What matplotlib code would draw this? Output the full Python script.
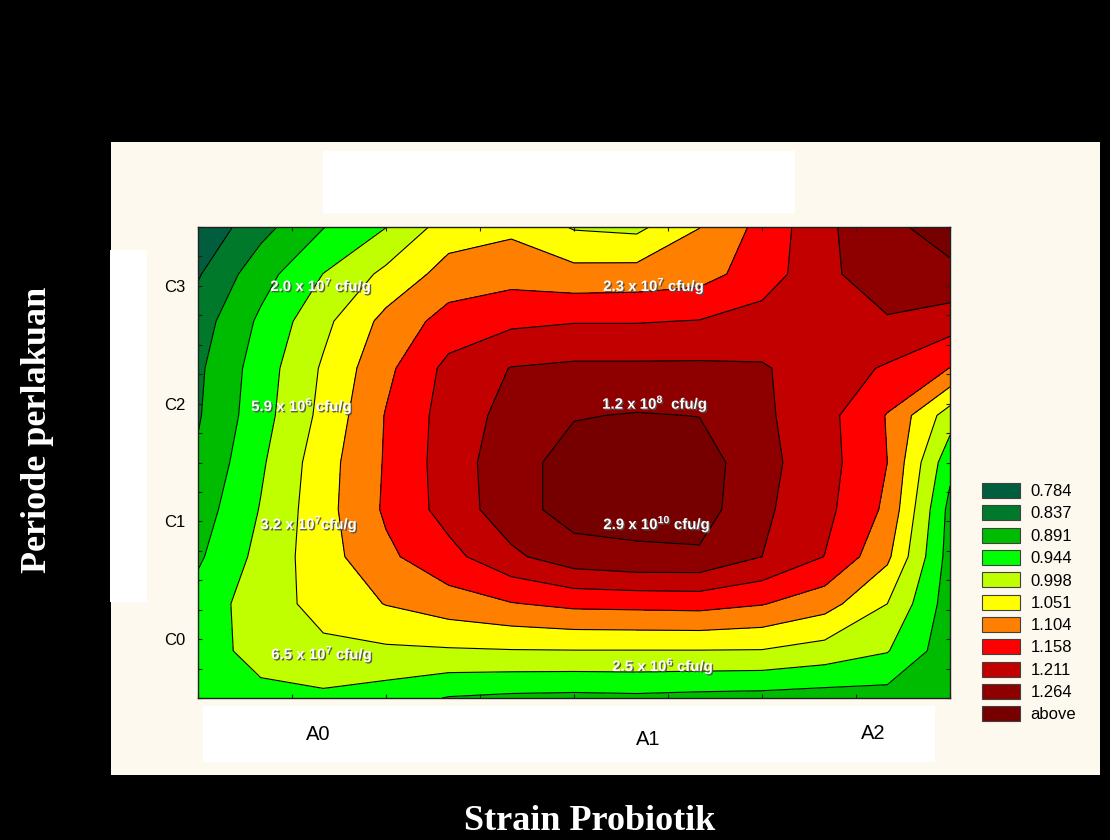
import numpy as np
import matplotlib.pyplot as plt
import matplotlib.patheffects as pe
from matplotlib.patches import Rectangle, Patch

plt.rcParams['font.family'] = ['Liberation Sans', 'DejaVu Sans']
plt.rcParams['mathtext.fontset'] = 'custom'
plt.rcParams['mathtext.rm'] = 'Liberation Sans:bold'
plt.rcParams['mathtext.bf'] = 'Liberation Sans:bold'

# kontur-nivåer og farger (fra forklaringen)
levels = [0.784, 0.837, 0.891, 0.944, 0.998, 1.051, 1.104, 1.158, 1.211, 1.264]
legend_labels = ['0.784', '0.837', '0.891', '0.944', '0.998', '1.051',
                 '1.104', '1.158', '1.211', '1.264', 'above']
colors = ['#005e3e', '#007a2a', '#00bc00', '#00ff00', '#bfff00', '#ffff00',
          '#ff8000', '#ff0000', '#c20000', '#8e0000', '#760000']

# akser: strain (x) og periode (y)
x_vals = np.linspace(0, 8, 13)
y_vals = np.linspace(3.5, -0.5, 11)
y_ticks = [0, 1, 2, 3]
y_labels = ['C0', 'C1', 'C2', 'C3']
x_names = ['A0', 'A1', 'A2']
x_name_x = [1.277, 4.787, 7.18]
x_name_y = [-0.81, -0.855, -0.80]

# målte verdier, rad for rad ovenfra og ned
z = [
    [0.741, 0.819, 0.889, 0.943, 1.024, 1.040, 0.993, 0.985, 1.050, 1.120, 1.200, 1.253, 1.285],
    [0.779, 0.869, 0.945, 1.011, 1.072, 1.083, 1.069, 1.072, 1.083, 1.131, 1.197, 1.248, 1.253],
    [0.811, 0.901, 0.984, 1.067, 1.125, 1.147, 1.155, 1.155, 1.160, 1.179, 1.189, 1.205, 1.184],
    [0.827, 0.917, 1.005, 1.091, 1.173, 1.213, 1.221, 1.221, 1.221, 1.216, 1.184, 1.152, 1.103],
    [0.832, 0.923, 1.013, 1.107, 1.181, 1.229, 1.261, 1.267, 1.263, 1.221, 1.176, 1.101, 0.971],
    [0.845, 0.936, 1.029, 1.109, 1.184, 1.243, 1.285, 1.283, 1.291, 1.227, 1.179, 1.104, 0.907],
    [0.864, 0.947, 1.032, 1.112, 1.179, 1.243, 1.285, 1.280, 1.288, 1.221, 1.173, 1.093, 0.875],
    [0.883, 0.960, 1.029, 1.093, 1.141, 1.200, 1.243, 1.256, 1.256, 1.211, 1.157, 1.062, 0.869],
    [0.912, 0.973, 1.016, 1.053, 1.080, 1.101, 1.117, 1.120, 1.123, 1.107, 1.072, 0.998, 0.864],
    [0.917, 0.965, 0.987, 0.989, 0.992, 0.995, 0.996, 0.996, 0.996, 0.995, 0.976, 0.947, 0.859],
    [0.907, 0.928, 0.933, 0.917, 0.888, 0.880, 0.877, 0.880, 0.875, 0.872, 0.867, 0.869, 0.853],
]

# teksten med kimtall i plottet
counts = ['2.0 x 10$^{7}$ cfu/g', '2.3 x 10$^{7}$ cfu/g',
          '5.9 x 10$^{6}$ cfu/g', '1.2 x 10$^{8}$  cfu/g',
          '3.2 x 10$^{7}$cfu/g', '2.9 x 10$^{10}$ cfu/g',
          '6.5 x 10$^{7}$ cfu/g', '2.5 x 10$^{6}$ cfu/g']
count_x = [1.309, 4.851, 1.106, 4.862, 1.181, 4.883, 1.319, 4.947]
count_y = [3.0, 3.0, 1.98, 2.0, 0.978, 0.978, -0.126, -0.228]

W, H = 1110, 840
fig = plt.figure(figsize=(W / 100, H / 100), dpi=100, facecolor='black')


def boks(x0, y0, x1, y1, farge):
    # rektangel i pikselkoordinater (fra øverst til venstre)
    fig.patches.append(Rectangle((x0 / W, 1 - y1 / H), (x1 - x0) / W, (y1 - y0) / H,
                                 transform=fig.transFigure, facecolor=farge,
                                 edgecolor='none', zorder=-5))


boks(111, 142, 1100, 775, '#fef9ee')
boks(323, 151, 795, 213, 'white')
boks(110, 250, 147, 602, 'white')
boks(203, 706, 935, 762, 'white')

ax = fig.add_axes([198 / W, 1 - 698 / H, 752 / W, 471 / H])
ax.set_zorder(2)
X, Y = np.meshgrid(x_vals, y_vals)
Z = np.array(z)
bounds = [0.70] + levels + [1.30]
ax.contourf(X, Y, Z, levels=bounds, colors=colors)
ax.contour(X, Y, Z, levels=levels, colors='black', linewidths=0.8)

ax.set_xlim(0, 8)
ax.set_ylim(-0.5, 3.5)
ax.set_yticks(y_ticks)
ax.set_yticklabels(y_labels, fontsize=12)
ax.set_yticks(np.arange(-0.5, 3.51, 0.25), minor=True)
ax.set_xticks(np.arange(0, 9, 1))
ax.set_xticklabels([])
ax.tick_params(which='both', direction='in', top=True, right=True, length=3,
               width=0.8, color='#202020', pad=9)
for s in ax.spines.values():
    s.set_linewidth(1)
    s.set_color('#202020')

skygge = [pe.SimplePatchShadow(offset=(1, -1), shadow_rgbFace='#505050', alpha=0.9),
          pe.Normal()]
for tekst, cx, cy in zip(counts, count_x, count_y):
    ax.text(cx, cy, tekst, color='white', fontsize=10.8, fontweight='bold',
            ha='center', va='center', path_effects=skygge)

# navn på strain i den hvite boksen under plottet
for navn, px, py in zip(x_names, x_name_x, x_name_y):
    ax.text(px, py, navn, fontsize=14.5, ha='center', va='center',
            color='black')

handles = [Patch(facecolor=c, edgecolor='#404040', linewidth=0.8) for c in colors]
fig.legend(handles, legend_labels, loc='upper left',
           bbox_to_anchor=(982 / W, 1 - 483 / H), frameon=False, fontsize=12,
           handlelength=2.3, handleheight=1.0, labelspacing=0.37,
           handletextpad=0.6, borderaxespad=0, borderpad=0)

fig.text(38 / W, 1 - 430 / H, 'Periode perlakuan', rotation=90, color='white',
         fontweight='bold', family='Liberation Serif', fontsize=26,
         ha='center', va='center')
fig.text(590 / W, 1 - 822 / H, 'Strain Probiotik', color='white',
         fontweight='bold', family='Liberation Serif', fontsize=26,
         ha='center', va='center')

fig.savefig('out.png', dpi=100, facecolor='black')
